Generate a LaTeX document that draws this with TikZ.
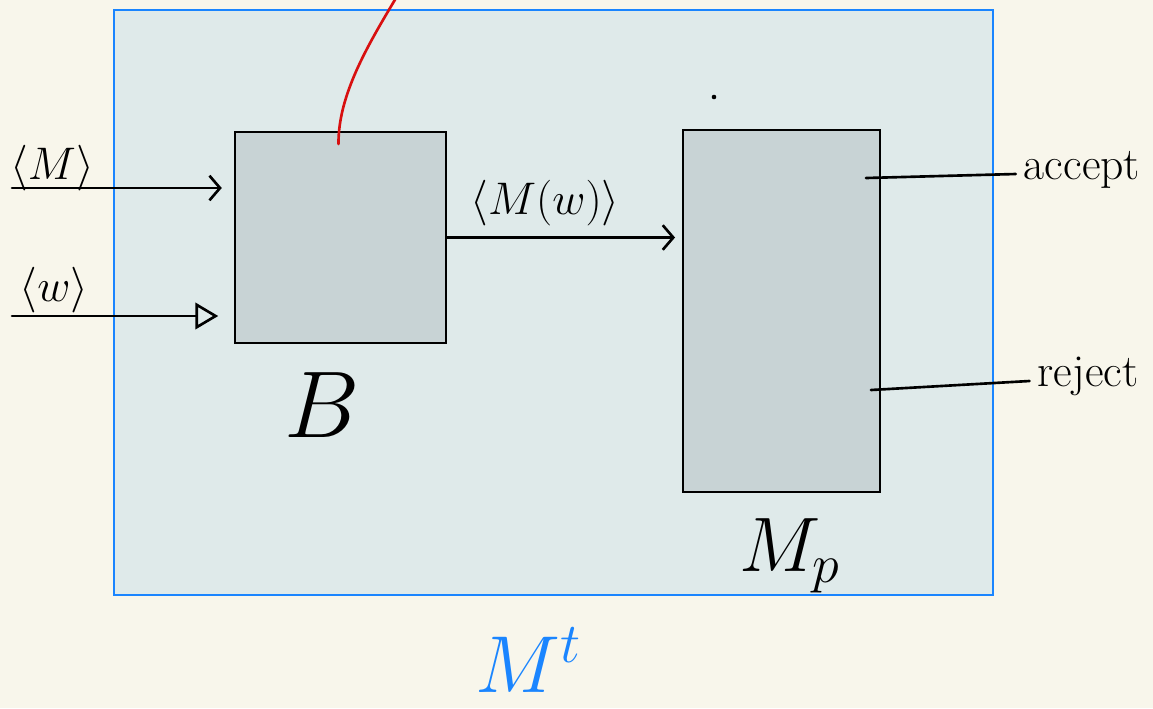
\RequirePackage{fix-cm}
\documentclass[tikz,border=0pt]{standalone}
\usepackage{fontspec}
\usetikzlibrary{positioning,calc,arrows.meta}
\definecolor{paper}{HTML}{F8F6EB}
\definecolor{frame}{HTML}{DFEAEA}
\definecolor{framepen}{HTML}{1A85FF}
\definecolor{boxfill}{HTML}{C8D3D5}
\definecolor{penred}{HTML}{D81010}
\tikzset{
  machine/.style={draw=black, fill=boxfill, line width=1.1pt, inner sep=0pt},
  hand/.style={font=\fontsize{26}{28}\selectfont},
  wire/.style={line width=1.5pt, line cap=round},
}

\begin{document}
\begin{tikzpicture}[x=0.02cm, y=-0.02cm]
    \fill[paper] (0,0) rectangle (1153,708);
    \useasboundingbox (0,0) rectangle (1153,708);
    \node[draw=framepen, fill=frame, line width=1.2pt, inner sep=0pt, minimum width=17.58cm, minimum height=11.7cm] (Mt) at (553.5,302.5) {};
    \node[machine, minimum width=4.22cm, minimum height=4.22cm] (B) at (340.5,237.5) {};
    \node[machine, minimum width=3.94cm, minimum height=7.24cm] (Mp) at (781.5,311) {};
    % labels
    \node[hand] (inM) at (52,168) {$\langle M\rangle$};
    \node[hand] (inw) at (54,290) {$\langle w\rangle$};
    \node[hand] (Mw) at (545,203) {$\langle M(w)\rangle$};
    \node[hand] (accept) at (1082,170) {accept};
    \node[hand] (reject) at (1088,376) {reject};
    \node[font=\fontsize{54}{58}\selectfont] (Blabel) at (322,405) {$B$};
    \node[font=\fontsize{44}{48}\selectfont] (Mplabel) at (790,556) {$M_p$};
    \node[text=framepen, font=\fontsize{46}{50}\selectfont] (Mtlabel) at (528,660) {$M^t$};
    % wires
    \coordinate (srcM) at (12,188);
    \coordinate (srcw) at (12,316);
    \draw[wire, -{Straight Barb[length=6pt,width=14pt]}, shorten >=7pt] (srcM) -- (srcM -| B.west);
    \draw[wire, -{Triangle[open, length=13pt, width=15pt, fill=frame]}, shorten >=9pt] (srcw) -- (srcw -| B.west);
    \draw[wire, -{Straight Barb[length=6pt,width=14pt]}, shorten >=4pt] (B.east) -- (B.east -| Mp.west);
    \draw[wire] ($(Mp.east |- accept)+(-15,8)$) -- ($(accept.west)+(-2,4)$);
    \draw[wire] ($(Mp.east |- reject)+(-10,14)$) -- ($(reject.west)+(-2,5)$);
    \draw[wire, penred] ($(B.north)+(-2,13)$) .. controls (338,95) and (368,45) .. (396,-2);
    \fill (714,97) circle (1.3pt);
\end{tikzpicture}
\end{document}
